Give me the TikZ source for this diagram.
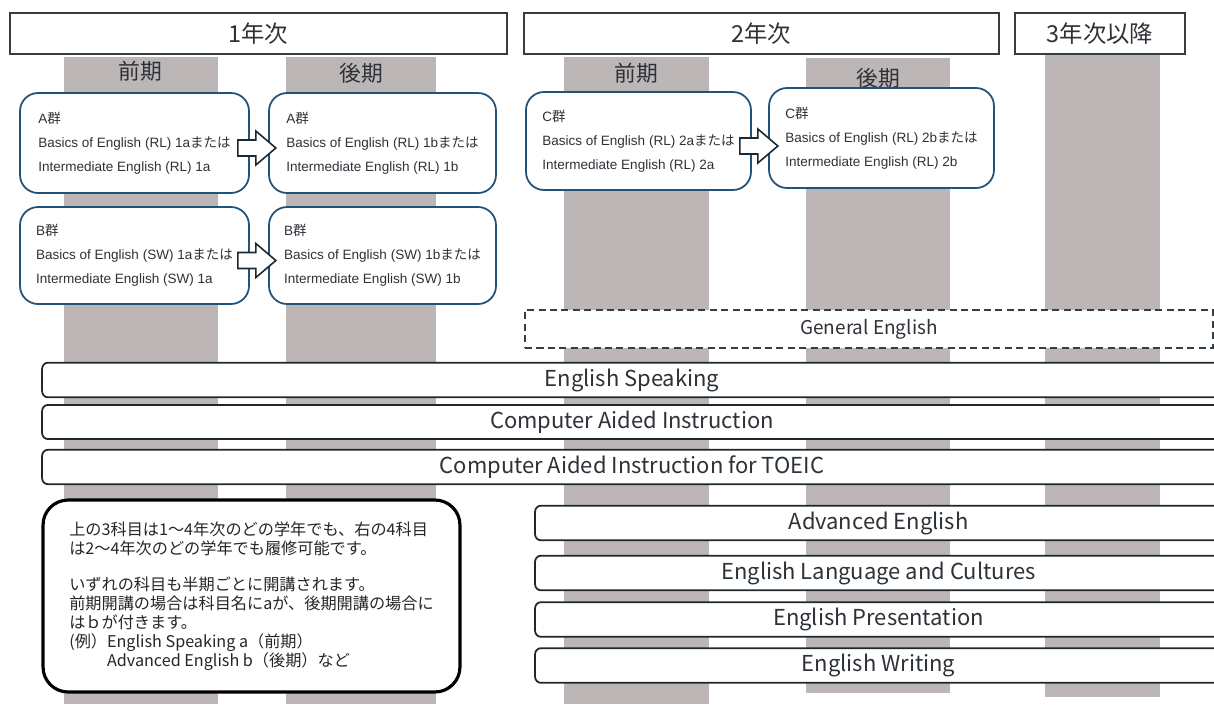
\documentclass[tikz,border=0pt]{standalone}
\usepackage{fontspec}
\setmainfont{Liberation Sans}
\newfontfamily\jpfont{Noto Sans CJK JP}
\usetikzlibrary{calc}

\definecolor{bandgray}{RGB}{189,182,182}
\definecolor{grpblue}{RGB}{33,82,122}
\definecolor{frameline}{RGB}{52,62,68}
\definecolor{barline}{RGB}{28,40,46}
\definecolor{inktext}{RGB}{45,50,56}

\newcommand{\jp}[1]{{\jpfont #1}}
% block arrow from one group box into the next
\newcommand{\grparrow}[1]{%
  \draw[blockarrow] ($(#1.east)+(-12,-3)$) -- ++(18,0) -- ++(0,-9) -- ++(20,17)
    -- ++(-20,17) -- ++(0,-9) -- ++(-18,0) -- cycle;}

\tikzset{
  yearbox/.style={draw=frameline, line width=1.1pt, fill=white, text=inktext,
    font=\jpfont\fontsize{13.3}{16}\selectfont, minimum height=0.82cm},
  termlabel/.style={text=inktext, font=\jpfont\fontsize{12.4}{15}\selectfont},
  grpbox/.style={draw=grpblue, line width=1pt, fill=white, rounded corners=0.36cm,
    align=left, text=inktext, font=\fontsize{7.7}{13.6}\selectfont},
  coursebar/.style={draw=barline, line width=1pt, fill=white, rounded corners=0.12cm,
    text=inktext, font=\jpfont\fontsize{12.5}{15}\selectfont},
  optbar/.style={coursebar, draw=frameline, line width=0.7pt, rounded corners=0pt,
    dash pattern=on 4pt off 2.5pt, font=\jpfont\fontsize{10.8}{13}\selectfont},
  notebox/.style={draw=black, line width=1.8pt, fill=white, rounded corners=0.5cm,
    align=left, text=black!85, font=\jpfont\fontsize{9.2}{10.9}\selectfont},
  blockarrow/.style={draw=barline, line width=0.9pt, fill=white, line join=miter},
}

\begin{document}
\begin{tikzpicture}[x=0.02cm, y=-0.02cm]
  \useasboundingbox (0,0) rectangle (1214,704);
  \clip (0,0) rectangle (1214,704);

  % semester bands
  \fill[bandgray] (64,57) rectangle (218,704);
  \fill[bandgray] (286,57) rectangle (436,704);
  \fill[bandgray] (564,57) rectangle (709,704);
  \fill[bandgray] (806,58) rectangle (950,693);
  \fill[bandgray] (1045,54) rectangle (1160,697);

  % years
  \node[yearbox, minimum width=9.94cm] (year1) at (258.5,33.5) {1年次};
  \node[yearbox, minimum width=9.5cm]  (year2) at (761.5,33.5) {2年次};
  \node[yearbox, minimum width=3.4cm]  (year3) at (1100,33.5) {3年次以降};

  \node[termlabel] (t1a) at (140,71) {前期};
  \node[termlabel] (t1b) at (361,73) {後期};
  \node[termlabel] (t2a) at (636,73) {前期};
  \node[termlabel] (t2b) at (878,78) {後期};

  % required groups
  \node[grpbox, minimum width=4.58cm, minimum height=2cm] (a1) at (134.5,143)
    {A\jp{群}\\Basics of English (RL) 1a\jp{または}\\Intermediate English (RL) 1a};
  \node[grpbox, minimum width=4.54cm, minimum height=2cm] (a2) at (382.5,143)
    {A\jp{群}\\Basics of English (RL) 1b\jp{または}\\Intermediate English (RL) 1b};
  \node[grpbox, minimum width=4.58cm, minimum height=1.94cm] (b1) at (134.5,255.5)
    {B\jp{群}\\Basics of English (SW) 1a\jp{または}\\Intermediate English (SW) 1a};
  \node[grpbox, minimum width=4.54cm, minimum height=1.94cm] (b2) at (382.5,255.5)
    {B\jp{群}\\Basics of English (SW) 1b\jp{または}\\Intermediate English (SW) 1b};
  \node[grpbox, minimum width=4.5cm, minimum height=1.96cm] (c1) at (638.5,141)
    {C\jp{群}\\Basics of English (RL) 2a\jp{または}\\Intermediate English (RL) 2a};
  \node[grpbox, minimum width=4.5cm, minimum height=2cm] (c2) at (881.5,138)
    {C\jp{群}\\Basics of English (RL) 2b\jp{または}\\Intermediate English (RL) 2b};

  \grparrow{a1}
  \grparrow{b1}
  \grparrow{c1}

  % electives
  \node[optbar, minimum width=13.76cm, minimum height=0.76cm] (gen) at (869,329) {General English};
  \node[coursebar, minimum width=23.6cm, minimum height=0.68cm] (spk) at (632,380) {English Speaking};
  \node[coursebar, minimum width=23.6cm, minimum height=0.64cm] (cai) at (632,422) {Computer Aided Instruction};
  \node[coursebar, minimum width=23.6cm, minimum height=0.64cm] (toeic) at (632,467) {Computer Aided Instruction for TOEIC};
  \node[coursebar, minimum width=13.74cm, minimum height=0.64cm] (adv) at (878.5,523) {Advanced English};
  \node[coursebar, minimum width=13.74cm, minimum height=0.68cm] (elc) at (878.5,573) {English Language and Cultures};
  \node[coursebar, minimum width=13.74cm, minimum height=0.66cm] (pres) at (878.5,619.5) {English Presentation};
  \node[coursebar, minimum width=13.74cm, minimum height=0.62cm] (wri) at (878.5,665.5) {English Writing};

  % note
  \node[notebox, minimum width=8.34cm, minimum height=3.84cm] (note) at (251.5,596)
    {上の3科目は1～4年次のどの学年でも、右の4科目\\
     は2～4年次のどの学年でも履修可能です。\\[9.5pt]
     いずれの科目も半期ごとに開講されます。\\
     前期開講の場合は科目名にaが、後期開講の場合に\\
     はｂが付きます。\\
     (例）English Speaking a（前期）\\
     \phantom{(例）}Advanced English b（後期）など};
\end{tikzpicture}
\end{document}
